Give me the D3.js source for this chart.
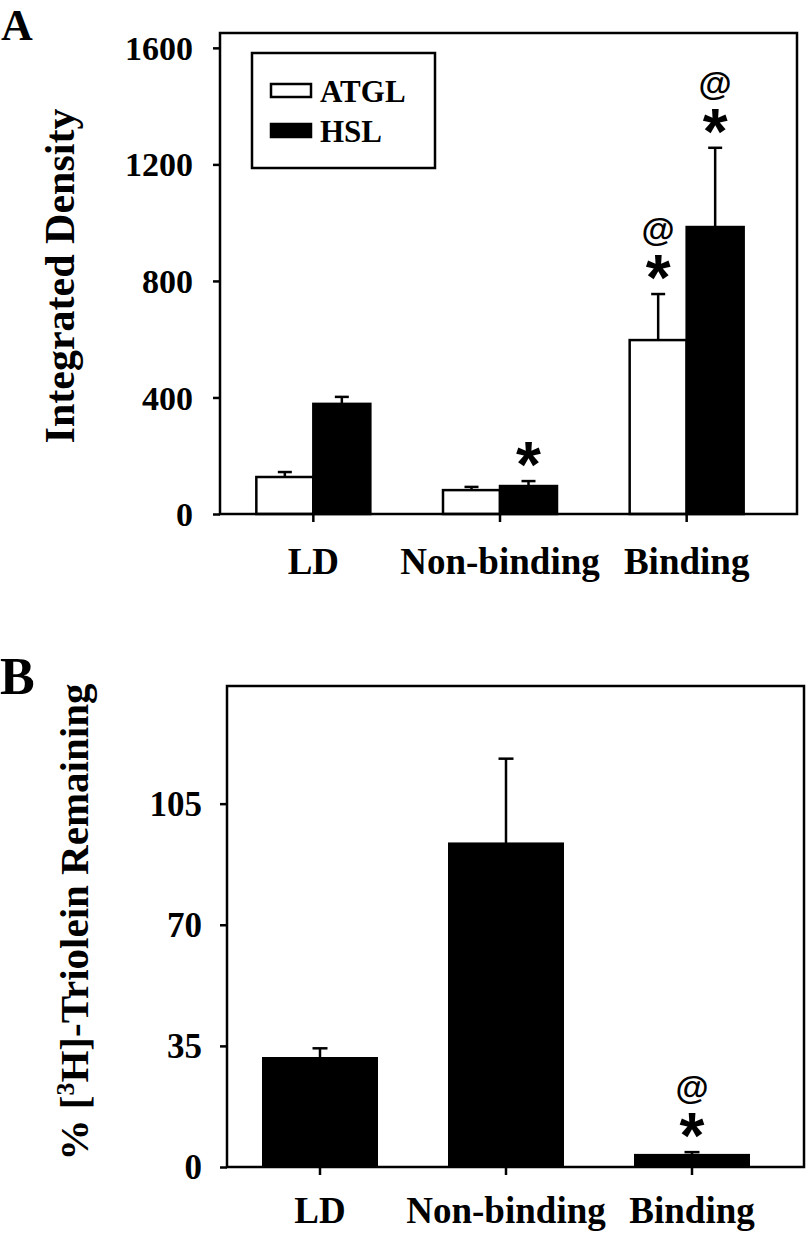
<!DOCTYPE html>
<html>
<head>
<meta charset="utf-8">
<script src="https://cdn.jsdelivr.net/npm/d3@7"></script>
<style>
  body { margin: 0; background: #fff; }
  text { font-family: "Liberation Serif", "Times New Roman", serif; font-weight: bold; fill: #000; }
  .sig { font-family: "Liberation Sans", Arial, sans-serif; }
</style>
</head>
<body>
<svg id="frame"></svg>
<script>
// ---- data ----
const categories = ["LD", "Non-binding", "Binding"];
const seriesA = ["ATGL", "HSL"];
const atglMean = [127, 82, 597];
const atglErr = [17, 11, 158];
const hslMean = [378, 96, 985];
const hslErr = [24, 17, 272];
const atglSig = [[], [], ["@", "*"]];
const hslSig = [[], ["*"], ["@", "*"]];
const ticksA = [0, 400, 800, 1200, 1600];

const trioleinMean = [31.5, 93.5, 3.5];
const trioleinErr = [2.8, 24.5, 0.8];
const trioleinSig = [[], [], ["@", "*"]];
const ticksB = [0, 35, 70, 105];

// -------------------
const width = 807;
const height = 1234;

const svg = d3.select('#frame')
  .attr('width', width)
  .attr('height', height);

// panel boxes
const boxA = {left: 220, top: 33, right: 797, bottom: 514};
const boxB = {left: 227, top: 686, right: 804, bottom: 1167};

const yA = d3.scaleLinear().domain([0, 1651]).range([boxA.bottom, boxA.top]);
const xA = d3.scaleBand().domain(categories).range([boxA.left, 780]);
const xSub = d3.scaleBand().domain(seriesA).range([-57, 57]);

const yB = d3.scaleLinear().domain([0, 139]).range([boxB.bottom, boxB.top]);
const xB = d3.scaleBand().domain(categories).range([boxB.left, 785]);

function drawAxes(g, box, x, y, ticks, tickFont, padLeft, padBottom) {
  const yaxis = d3.axisLeft(y).tickValues(ticks).tickFormat(d3.format('d')).tickSize(7).tickPadding(padLeft);
  const xaxis = d3.axisBottom(x).tickSize(8).tickPadding(padBottom);

  const gy = g.append('g').attr('transform', `translate(${box.left},0)`).call(yaxis);
  const gx = g.append('g').attr('transform', `translate(0,${box.bottom})`).call(xaxis);
  gy.select('.domain').remove();
  gx.select('.domain').remove();
  gy.selectAll('line').attr('stroke', '#000').attr('stroke-width', 2.5);
  gx.selectAll('line').attr('stroke', '#000').attr('stroke-width', 2.5);
  gx.selectAll('.tick').attr('transform', d => `translate(${x(d) + x.bandwidth() / 2},0)`);
  gy.selectAll('text').style('font-size', tickFont + 'px')
    .style('font-family', '"Liberation Serif", serif').style('font-weight', 'bold').attr('dy', '0.34em');
  gx.selectAll('text').style('font-size', '37px')
    .style('font-family', '"Liberation Serif", serif').style('font-weight', 'bold');

  g.append('rect')
    .attr('x', box.left).attr('y', box.top)
    .attr('width', box.right - box.left).attr('height', box.bottom - box.top)
    .attr('fill', 'none').attr('stroke', '#000').attr('stroke-width', 2.5);
}

// significance marks: one text per bar, "@" stacked over "*"
function drawSig(g, cx, errTop, marks) {
  if (!marks.length) return;
  const t = g.append('text').attr('class', 'sig').attr('text-anchor', 'middle');
  marks.forEach(m => {
    if (m === "*") {
      t.append('tspan').attr('x', cx).attr('y', errTop + 6)
        .style('font-size', '64px').style('font-weight', 'bold').text('*');
    } else {
      t.append('tspan').attr('x', cx).attr('y', errTop - 53)
        .style('font-size', '34px').style('font-weight', 'bold').text('@');
    }
  });
}

function errorBar(g, cx, yTop, yBot, cap) {
  g.append('line').attr('x1', cx).attr('x2', cx).attr('y1', yBot).attr('y2', yTop)
    .attr('stroke', '#000').attr('stroke-width', 2.5);
  g.append('line').attr('x1', cx - cap / 2).attr('x2', cx + cap / 2).attr('y1', yTop).attr('y2', yTop)
    .attr('stroke', '#000').attr('stroke-width', 2.5);
}

// ---------- Panel A ----------
const gA = svg.append('g');

const rowsA = [];
categories.forEach((c, i) => {
  rowsA.push({cat: c, s: "ATGL", v: atglMean[i], e: atglErr[i], sig: atglSig[i]});
  rowsA.push({cat: c, s: "HSL", v: hslMean[i], e: hslErr[i], sig: hslSig[i]});
});

rowsA.forEach(d => {
  const cx = xA(d.cat) + xA.bandwidth() / 2 + xSub(d.s) + xSub.bandwidth() / 2;
  errorBar(gA, cx, yA(d.v + d.e), yA(d.v), 14);
});

gA.selectAll('rect.bar').data(rowsA).enter()
  .append('rect')
  .attr('class', 'bar')
  .attr('x', d => xA(d.cat) + xA.bandwidth() / 2 + xSub(d.s))
  .attr('y', d => yA(d.v))
  .attr('width', xSub.bandwidth())
  .attr('height', d => yA(0) - yA(d.v))
  .attr('fill', d => d.s === "ATGL" ? '#fff' : '#000')
  .attr('stroke', '#000')
  .attr('stroke-width', 2.5);

rowsA.forEach(d => {
  const cx = xA(d.cat) + xA.bandwidth() / 2 + xSub(d.s) + xSub.bandwidth() / 2;
  drawSig(gA, cx, yA(d.v + d.e), d.sig);
});

drawAxes(gA, boxA, xA, yA, ticksA, 34, 20, 26);

// legend
const leg = gA.append('g');
leg.append('rect').attr('x', 252).attr('y', 53).attr('width', 183).attr('height', 115)
  .attr('fill', '#fff').attr('stroke', '#000').attr('stroke-width', 2.5);
seriesA.forEach((s, i) => {
  leg.append('rect').attr('x', 271).attr('y', 84 + i * 40).attr('width', 40).attr('height', 13)
    .attr('fill', s === "ATGL" ? '#fff' : '#000').attr('stroke', '#000').attr('stroke-width', 2.5);
  leg.append('text').attr('x', 320).attr('y', 102 + i * 40).style('font-size', '31px').text(s);
});

gA.append('text').attr('transform', 'translate(74,276) rotate(-90)')
  .attr('text-anchor', 'middle').style('font-size', '42px').text('Integrated Density');
gA.append('text').attr('x', 1).attr('y', 40).style('font-size', '44px').text('A');

// ---------- Panel B ----------
const gB = svg.append('g');
const rowsB = categories.map((c, i) => ({cat: c, v: trioleinMean[i], e: trioleinErr[i], sig: trioleinSig[i]}));

rowsB.forEach(d => {
  const cx = xB(d.cat) + xB.bandwidth() / 2;
  errorBar(gB, cx, yB(d.v + d.e), yB(d.v), 15);
});

gB.selectAll('rect.bar').data(rowsB).enter()
  .append('rect')
  .attr('class', 'bar')
  .attr('x', d => xB(d.cat) + xB.bandwidth() / 2 - 57)
  .attr('y', d => yB(d.v))
  .attr('width', 114)
  .attr('height', d => yB(0) - yB(d.v))
  .attr('fill', '#000')
  .attr('stroke', '#000')
  .attr('stroke-width', 2);

rowsB.forEach(d => {
  drawSig(gB, xB(d.cat) + xB.bandwidth() / 2, yB(d.v + d.e), d.sig);
});

drawAxes(gB, boxB, xB, yB, ticksB, 35, 18, 22);

const labB = gB.append('text').attr('transform', 'translate(88,922) rotate(-90)')
  .attr('text-anchor', 'middle').style('font-size', '41px');
labB.append('tspan').text('% [');
labB.append('tspan').attr('dy', -14).style('font-size', '26px').text('3');
labB.append('tspan').attr('dy', 14).text('H]-Triolein Remaining');

gB.append('text').attr('x', 0).attr('y', 694).style('font-size', '52px').text('B');
</script>
</body>
</html>
